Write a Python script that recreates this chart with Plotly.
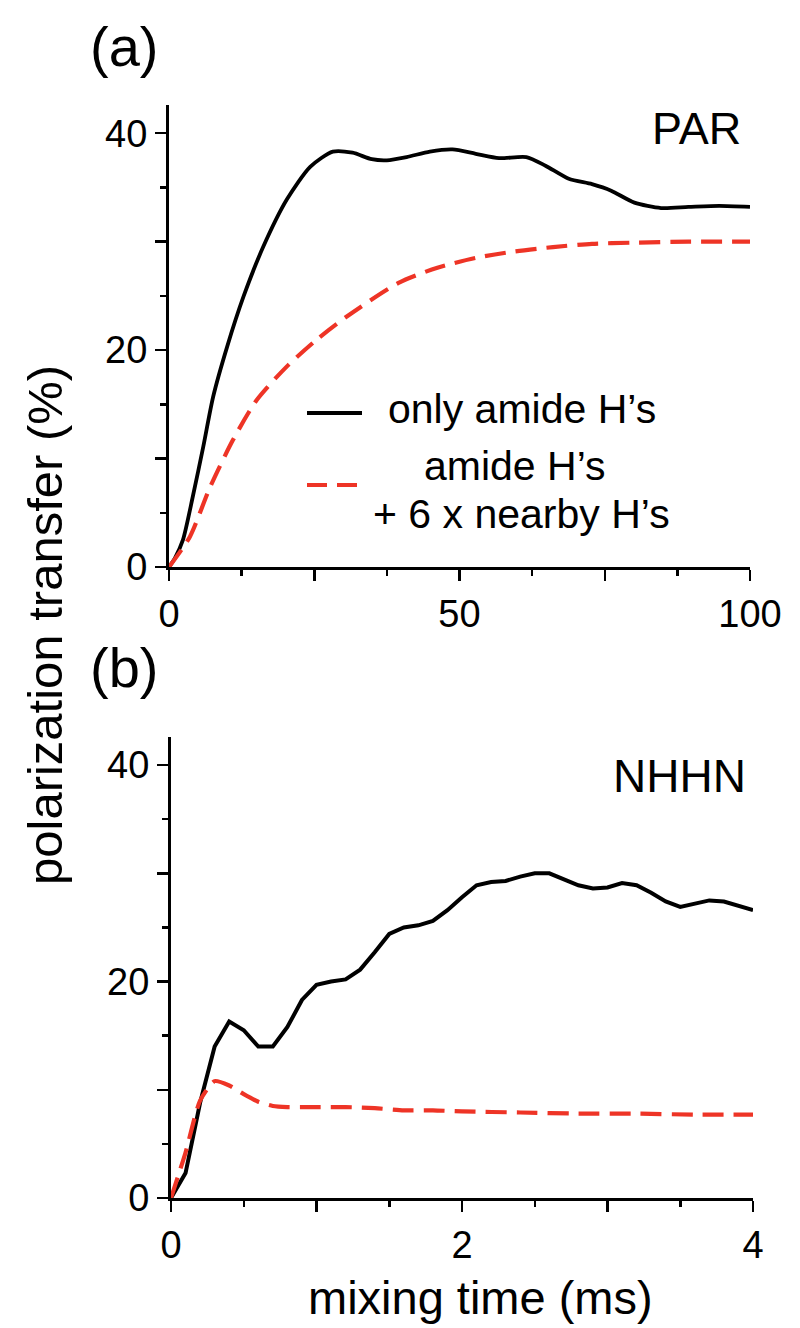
import plotly.graph_objects as go

# ---------------- data ----------------
# (a) PAR, mixing time in ms
par_t_amide = [0, 1, 2.4, 4.1, 5.9, 7.6, 10, 12.8, 16.2, 20.3, 24.3, 28.2, 31.6, 34.9, 37.5,
               40.9, 44.9, 48.8, 52.8, 56.8, 61.5, 64.8, 68.8, 72.8, 76.1, 80.1, 84.7, 89.4, 94.7, 100]
par_amide = [0, 0.8, 2.5, 6.5, 11.1, 15.7, 20.3, 24.9, 29.5, 33.9, 36.9, 38.3, 38.2, 37.6, 37.5,
             37.8, 38.3, 38.5, 38.1, 37.7, 37.8, 37.0, 35.8, 35.3, 34.7, 33.6, 33.1, 33.2, 33.3, 33.2]
par_t_nearby = [0, 3.6, 7.1, 11.0, 15.1, 20.3, 25.5, 30.6, 39.5, 46.2, 52.8, 59.5, 66.1, 72.8, 79.4, 89.4, 100]
par_nearby = [0, 2.8, 7.4, 11.7, 15.4, 18.5, 21.0, 23.1, 26.2, 27.6, 28.5, 29.1, 29.5, 29.8, 29.9, 30.0, 30.0]

# (b) NHHN, mixing time in ms
nhhn_t_amide = [0.0, 0.1, 0.2, 0.3, 0.4, 0.5, 0.6, 0.7, 0.8, 0.9, 1.0, 1.1, 1.2, 1.3, 1.4, 1.5, 1.6, 1.7,
                1.8, 1.9, 2.0, 2.1, 2.2, 2.3, 2.4, 2.5, 2.6, 2.7, 2.8, 2.9, 3.0, 3.1, 3.2, 3.3, 3.4, 3.5,
                3.6, 3.7, 3.8, 3.9, 4.0]
nhhn_amide = [0, 2.3, 8.8, 14.0, 16.3, 15.5, 14.0, 14.0, 15.8, 18.3, 19.7, 20.0, 20.2, 21.1, 22.7, 24.4, 25.0,
              25.2, 25.6, 26.6, 27.8, 28.9, 29.2, 29.3, 29.7, 30.0, 30.0, 29.4, 28.9, 28.6, 28.7, 29.1,
              28.9, 28.2, 27.4, 26.9, 27.2, 27.5, 27.4, 27.0, 26.6]
nhhn_t_nearby = [0.0, 0.1, 0.2, 0.3, 0.4, 0.5, 0.6, 0.7, 0.8, 0.9, 1.0, 1.2, 1.4, 1.6, 1.8, 2.0, 2.4, 2.8,
                 3.2, 3.6, 4.0]
nhhn_nearby = [0, 4.2, 9.0, 10.8, 10.4, 9.6, 8.9, 8.5, 8.4, 8.4, 8.4, 8.4, 8.3, 8.1, 8.1, 8.0, 7.9, 7.8,
               7.8, 7.7, 7.7]

par_xticks = [0, 25, 50, 75, 100]
par_xticktext = ["0", "", "50", "", "100"]
par_xminor = [12.5, 37.5, 62.5, 87.5]
nhhn_xticks = [0, 1, 2, 3, 4]
nhhn_xticktext = ["0", "", "2", "", "4"]
nhhn_xminor = [0.5, 1.5, 2.5, 3.5]
yticks = [0, 10, 20, 30, 40]
yticktext = ["0", "", "20", "", "40"]
yminor = [5, 15, 25, 35]

label_amide = "only amide H\u2019s"
label_nearby_1 = "amide H\u2019s"
label_nearby_2 = "+ 6 x nearby H\u2019s"

# ---------------- figure ----------------
W, H = 800, 1328
FONT = "Liberation Sans, Arial, Helvetica, sans-serif"
RED = "rgb(238,52,38)"


def px(x):
    return x / W


def py(y):
    return 1 - y / H


fig = go.Figure()
fig.add_trace(go.Scatter(x=par_t_amide, y=par_amide, mode="lines", xaxis="x", yaxis="y",
                         line=dict(color="black", width=3.8, shape="spline", smoothing=0.7),
                         showlegend=False))
fig.add_trace(go.Scatter(x=par_t_nearby, y=par_nearby, mode="lines", xaxis="x", yaxis="y",
                         line=dict(color=RED, width=4.2, dash="21px,10px", shape="spline", smoothing=0.7),
                         showlegend=False))
fig.add_trace(go.Scatter(x=nhhn_t_amide, y=nhhn_amide, mode="lines", xaxis="x2", yaxis="y2",
                         line=dict(color="black", width=4),
                         showlegend=False))
fig.add_trace(go.Scatter(x=nhhn_t_nearby, y=nhhn_nearby, mode="lines", xaxis="x2", yaxis="y2",
                         line=dict(color=RED, width=4.2, dash="21px,10px", shape="spline", smoothing=0.6),
                         showlegend=False))

tickfont = dict(family=FONT, size=38, color="black")


def xaxis_cfg(domain, anchor, rng, tv, tt, minor):
    return dict(domain=domain, anchor=anchor, range=rng, showgrid=False, zeroline=False,
                automargin=False,
                showline=True, linecolor="black", linewidth=3,
                ticks="outside", ticklen=11, tickwidth=2.5, tickcolor="black",
                tickmode="array", tickvals=tv, ticktext=tt, tickfont=tickfont,
                minor=dict(tickmode="array", tickvals=minor, ticks="outside", ticklen=6,
                           tickwidth=2.5, tickcolor="black", showgrid=False),
                fixedrange=True)


def yaxis_cfg(domain, anchor):
    return dict(domain=domain, anchor=anchor, range=[0, 42.6], showgrid=False, zeroline=False,
                automargin=False,
                showline=True, linecolor="black", linewidth=3,
                ticks="outside", ticklen=11, tickwidth=2.5, tickcolor="black",
                tickmode="array", tickvals=yticks, ticktext=yticktext, tickfont=tickfont,
                minor=dict(tickmode="array", tickvals=yminor, ticks="outside", ticklen=6,
                           tickwidth=2.5, tickcolor="black", showgrid=False),
                fixedrange=True)


fig.update_layout(
    width=W, height=H, margin=dict(l=0, r=0, t=0, b=0, pad=0, autoexpand=False),
    paper_bgcolor="white", plot_bgcolor="white",
    font=dict(family=FONT, color="black"),
    xaxis=xaxis_cfg([px(169), px(750)], "y", [0, 100], par_xticks, par_xticktext, par_xminor),
    yaxis=yaxis_cfg([py(567), py(105)], "x"),
    xaxis2=xaxis_cfg([px(171), px(753)], "y2", [0, 4], nhhn_xticks, nhhn_xticktext, nhhn_xminor),
    yaxis2=yaxis_cfg([py(1198), py(737)], "x2"),
    showlegend=False,
)

ann = []


def add_text(text, x, y, size, xanchor="center", yanchor="middle", angle=0, align="center"):
    ann.append(dict(text=text, x=px(x), y=py(y), xref="paper", yref="paper",
                    xanchor=xanchor, yanchor=yanchor, showarrow=False, textangle=angle,
                    align=align, font=dict(family=FONT, size=size, color="black")))


add_text("(a)", 124, 47, 56)
add_text("(b)", 124, 667, 56)
add_text("PAR", 743, 129, 45, xanchor="right")
add_text("NHHN", 748, 776, 46, xanchor="right")
add_text("mixing time (ms)", 481, 1297, 47)
add_text("polarization transfer (%)", 45, 625, 49, angle=-90)
# legend texts
add_text(label_amide, 386, 409, 41, xanchor="left")
add_text(label_nearby_1, 515, 466, 41)
add_text(label_nearby_2, 521, 514, 41)
fig.update_layout(annotations=ann)

# legend samples
fig.add_shape(type="line", xref="paper", yref="paper", x0=px(307), x1=px(362), y0=py(413), y1=py(413),
              line=dict(color="black", width=4))
fig.add_shape(type="line", xref="paper", yref="paper", x0=px(307), x1=px(358), y0=py(485), y1=py(485),
              line=dict(color=RED, width=4.2, dash="20px,10px"))

fig.write_html(
    "out.html",
    config={"displayModeBar": False, "staticPlot": True},
    post_script="document.body.style.margin='0';document.body.style.padding='0';"
                "document.documentElement.style.overflow='hidden';",
)
